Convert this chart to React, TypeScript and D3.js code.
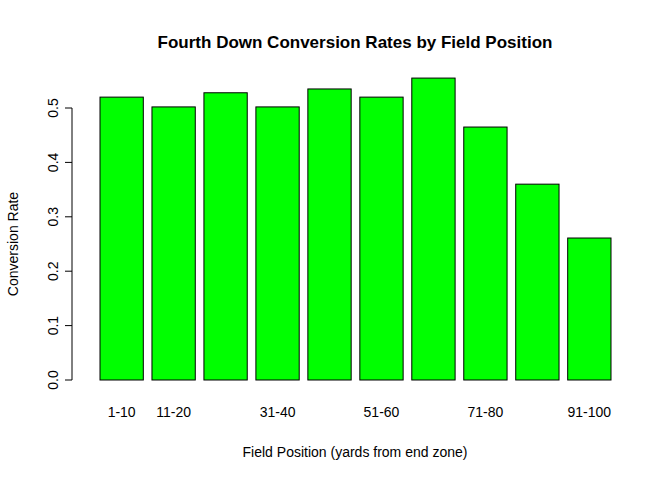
import React from 'react';
import * as d3 from 'd3';

const categories = ['1-10', '11-20', '21-30', '31-40', '41-50', '51-60', '61-70', '71-80', '81-90', '91-100'];
const rates = [0.52, 0.502, 0.528, 0.502, 0.535, 0.52, 0.555, 0.465, 0.36, 0.261];
const shownLabels = ['1-10', '11-20', '31-40', '51-60', '71-80', '91-100'];
const yTicks = [0, 0.1, 0.2, 0.3, 0.4, 0.5];

const W = 672, H = 480;

export default function App() {
  // R barplot coordinates: bar i spans [0.2 + 1.2*i, 1.2 + 1.2*i]
  const x = d3.scaleLinear().domain([0.2, 12.0]).range([100, 611]);
  const y = d3.scaleLinear().domain([0, 0.5]).range([380, 108]);
  const font = 'Liberation Sans, Arial, sans-serif';

  return (
    <svg width={W} height={H} style={{ position: 'absolute', left: 0, top: 0, background: '#fff' }} fontFamily={font}>
      <text x={355} y={48} textAnchor="middle" fontSize={17} fontWeight="bold">
        Fourth Down Conversion Rates by Field Position
      </text>
      {categories.map((c, i) => {
        const x0 = x(0.2 + 1.2 * i), x1 = x(1.2 + 1.2 * i);
        return (
          <rect key={c} x={x0} y={y(rates[i])} width={x1 - x0} height={y(0) - y(rates[i])}
            fill="#00ff00" stroke="#000" strokeWidth={1} />
        );
      })}
      {categories.map((c, i) =>
        shownLabels.includes(c) ? (
          <text key={c} x={x(0.7 + 1.2 * i)} y={417} textAnchor="middle" fontSize={14}>{c}</text>
        ) : null
      )}
      <line x1={72} x2={72} y1={y(0)} y2={y(0.5)} stroke="#000" />
      {yTicks.map(t => (
        <g key={t}>
          <line x1={65} x2={72} y1={y(t)} y2={y(t)} stroke="#000" />
          <text transform={`translate(58,${y(t)}) rotate(-90)`} textAnchor="middle" fontSize={14}>
            {t.toFixed(1)}
          </text>
        </g>
      ))}
      <text x={355} y={457} textAnchor="middle" fontSize={14}>Field Position (yards from end zone)</text>
      <text transform={`translate(18,244) rotate(-90)`} textAnchor="middle" fontSize={14}>Conversion Rate</text>
    </svg>
  );
}
